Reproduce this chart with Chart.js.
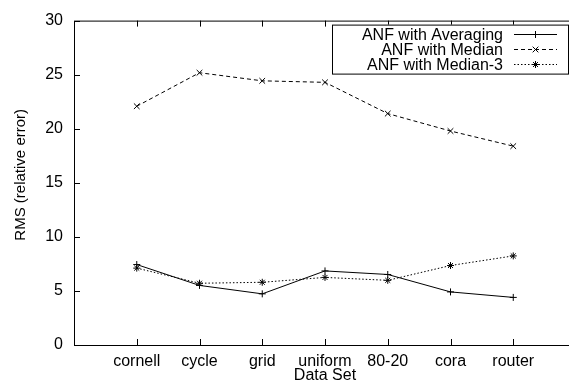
<!DOCTYPE html>
<html>
<head>
<meta charset="utf-8">
<script src="https://cdn.jsdelivr.net/npm/chart.js@4/dist/chart.umd.min.js"></script>
<style>
  html, body { margin: 0; padding: 0; background: #fff; overflow: hidden; }
  #wrap { width: 585px; height: 385px; }
</style>
</head>
<body>
<div id="wrap"><canvas id="rms"></canvas></div>
<script>
const categories = ["cornell", "cycle", "grid", "uniform", "80-20", "cora", "router"];
const averaging = [7.44, 5.51, 4.73, 6.85, 6.52, 4.91, 4.40];
const median = [22.08, 25.18, 24.43, 24.29, 21.40, 19.79, 18.39];
const median3 = [7.11, 5.71, 5.80, 6.25, 5.98, 7.35, 8.24];
const yTicks = [0, 5, 10, 15, 20, 25, 30];
const yTitle = "RMS (relative error)";

const FONT = "'Liberation Sans', Arial, Helvetica, sans-serif";

// blank slots at both ends give the gnuplot-style margin around the points
const xLabels = ["", ...categories, ""];

const toPoints = (vals) => vals.map((v, i) => ({ x: categories[i], y: v }));

function drawMarker(ctx, style, x, y, r) {
  ctx.beginPath();
  if (style === "cross" || style === "star") {
    ctx.moveTo(x - r, y); ctx.lineTo(x + r, y);
    ctx.moveTo(x, y - r); ctx.lineTo(x, y + r);
  }
  if (style === "crossRot" || style === "star") {
    const d = r * Math.SQRT1_2;
    ctx.moveTo(x - d, y - d); ctx.lineTo(x + d, y + d);
    ctx.moveTo(x - d, y + d); ctx.lineTo(x + d, y - d);
  }
  ctx.stroke();
}

// frame with inward ticks on all sides, plus the rotated y label
const framePlugin = {
  id: "frame",
  afterDatasetsDraw(chart) {
    const { ctx, chartArea: a, scales: { x, y } } = chart;
    ctx.save();
    ctx.strokeStyle = "#000";
    ctx.lineWidth = 1;
    ctx.strokeRect(a.left + 0.5, a.top + 0.5, a.right - a.left, a.bottom - a.top);
    ctx.beginPath();
    x.ticks.forEach((t, i) => {
      if (!x.getLabelForValue(t.value)) return;
      const px = Math.round(x.getPixelForTick(i)) + 0.5;
      ctx.moveTo(px, a.bottom); ctx.lineTo(px, a.bottom - 6);
      ctx.moveTo(px, a.top); ctx.lineTo(px, a.top + 6);
    });
    y.ticks.forEach((t, i) => {
      const py = Math.round(y.getPixelForTick(i)) + 0.5;
      ctx.moveTo(a.left, py); ctx.lineTo(a.left + 6, py);
      ctx.moveTo(a.right, py); ctx.lineTo(a.right - 6, py);
    });
    ctx.stroke();

    // gnuplot puts the ylabel a bit above the axis middle
    ctx.translate(21, (a.top + a.bottom) / 2 - 8);
    ctx.rotate(-Math.PI / 2);
    ctx.fillStyle = "#000";
    ctx.font = "15px " + FONT;
    ctx.textAlign = "center";
    ctx.textBaseline = "middle";
    ctx.fillText(yTitle, 0, 0);
    ctx.restore();
  }
};

// key box: right-aligned titles with a line sample to their right
const keyPlugin = {
  id: "key",
  afterDraw(chart) {
    const { ctx, chartArea: a } = chart;
    const right = a.right - 8, top = a.top + 4;
    const left = right - 236, bottom = top + 49;
    ctx.save();
    ctx.fillStyle = "#fff";
    ctx.fillRect(left, top, right - left, bottom - top);
    ctx.strokeStyle = "#000";
    ctx.lineWidth = 1;
    ctx.strokeRect(left + 0.5, top + 0.5, right - left, bottom - top);
    ctx.font = "16px " + FONT;
    ctx.textAlign = "right";
    ctx.textBaseline = "middle";
    chart.data.datasets.forEach((ds, i) => {
      const rowY = top + 10 + i * 15;
      ctx.fillStyle = "#000";
      ctx.fillText(ds.label, right - 65, rowY + 1);
      const ly = Math.round(rowY) - 0.5;
      ctx.setLineDash(ds.borderDash || []);
      ctx.beginPath();
      ctx.moveTo(right - 54, ly); ctx.lineTo(right - 11, ly);
      ctx.stroke();
      ctx.setLineDash([]);
      drawMarker(ctx, ds.pointStyle, right - 32.5, ly, ds.pointRadius);
    });
    ctx.restore();
  }
};

const lineStyle = (label, data, style, dash, r) => ({
  label,
  data: toPoints(data),
  borderColor: "#000",
  backgroundColor: "#000",
  borderWidth: 1,
  borderDash: dash,
  pointStyle: style,
  pointRadius: r,
  pointBorderWidth: 1,
  pointBorderColor: "#000",
  tension: 0,
  fill: false
});

new Chart(document.getElementById("rms"), {
  type: "line",
  data: {
    labels: xLabels,
    datasets: [
      lineStyle("ANF with Averaging", averaging, "cross", [], 3.5),
      lineStyle("ANF with Median", median, "crossRot", [4, 3], 4),
      lineStyle("ANF with Median-3", median3, "star", [1.5, 2], 3.5)
    ]
  },
  options: {
    responsive: true,
    maintainAspectRatio: false,
    animation: false,
    layout: { padding: { top: 9, right: 9, left: 0, bottom: 0 } },
    plugins: { legend: { display: false }, tooltip: { enabled: false } },
    scales: {
      x: {
        type: "category",
        offset: false,
        grid: { display: false, drawTicks: false },
        border: { display: false },
        ticks: {
          autoSkip: false,
          maxRotation: 0,
          padding: 7,
          color: "#000",
          font: { family: FONT, size: 16 }
        },
        title: {
          display: true,
          text: "Data Set",
          color: "#000",
          padding: 0,
          font: { family: FONT, size: 16, lineHeight: 1.2 }
        },
        afterFit: (s) => { s.height = 40; }
      },
      y: {
        min: 0,
        max: 30,
        afterBuildTicks: (s) => { s.ticks = yTicks.map((v) => ({ value: v })); },
        grid: { display: false, drawTicks: false },
        border: { display: false },
        ticks: {
          padding: 11,
          color: "#000",
          font: { family: FONT, size: 16 }
        },
        afterFit: (s) => { s.width = 74; }
      }
    }
  },
  plugins: [framePlugin, keyPlugin]
});
</script>
</body>
</html>
